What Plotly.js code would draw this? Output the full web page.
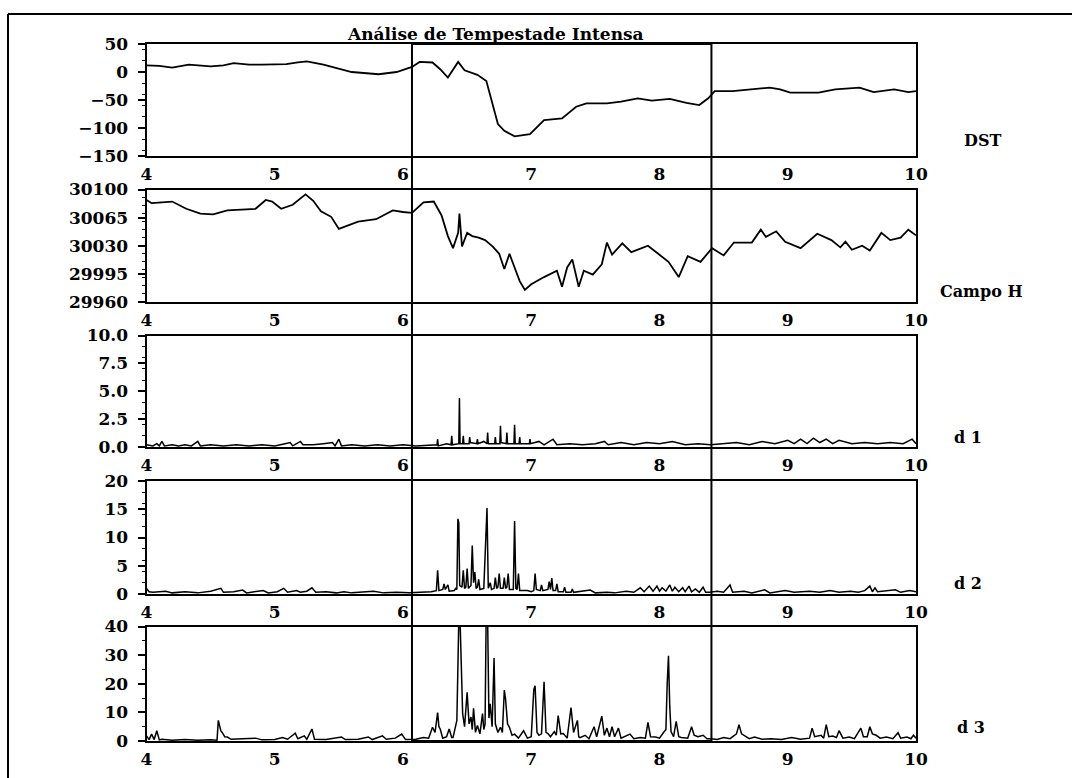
<!DOCTYPE html>
<html>
<head>
<meta charset="utf-8">
<script src="https://cdn.plot.ly/plotly-3.0.1.min.js"></script>
<style>html,body{margin:0;padding:0;background:#fff;}#chart{width:1072px;height:778px;}</style>
</head>
<body>
<div id="chart"></div>
<script>
// ---------- data (days) ----------
const titleText = "Análise de Tempestade Intensa";
const panelLabels = ["DST", "Campo H", "d 1", "d 2", "d 3"];
const xTicks = [4, 5, 6, 7, 8, 9, 10];

const dstX = [4.00,4.10,4.20,4.33,4.50,4.60,4.68,4.80,4.90,5.09,5.18,5.25,5.38,5.50,5.60,5.81,5.95,6.07,6.13,6.23,6.29,6.35,6.43,6.48,6.58,6.65,6.69,6.74,6.79,6.87,6.99,7.10,7.24,7.35,7.43,7.59,7.70,7.83,7.94,8.08,8.21,8.31,8.38,8.43,8.57,8.73,8.86,8.94,9.02,9.24,9.37,9.56,9.67,9.83,9.94,10.0];
const dstY = [12,11,8,13,10,12,16,13,13,14,17,19,13,6,0,-4,0,9,18,17,5,-10,18,3,-5,-16,-50,-93,-105,-115,-111,-86,-83,-62,-56,-56,-53,-47,-51,-48,-55,-59,-47,-34,-34,-31,-28,-31,-37,-37,-31,-28,-36,-31,-36,-34];

const hX = [4.00,4.04,4.12,4.20,4.31,4.42,4.52,4.63,4.74,4.85,4.93,4.98,5.05,5.14,5.24,5.30,5.36,5.44,5.50,5.57,5.65,5.79,5.92,6.00,6.07,6.16,6.24,6.30,6.35,6.39,6.43,6.44,6.46,6.50,6.54,6.59,6.64,6.70,6.75,6.79,6.83,6.87,6.91,6.95,7.00,7.10,7.20,7.24,7.28,7.32,7.37,7.41,7.48,7.55,7.59,7.63,7.71,7.78,7.91,7.99,8.07,8.15,8.22,8.32,8.41,8.50,8.58,8.72,8.79,8.83,8.91,8.98,9.10,9.23,9.34,9.41,9.45,9.50,9.58,9.64,9.73,9.80,9.88,9.94,10.0];
const hY = [30087,30083,30084,30085,30076,30070,30069,30074,30075,30076,30087,30085,30076,30081,30094,30086,30073,30066,30051,30055,30060,30063,30074,30072,30071,30084,30085,30068,30042,30027,30046,30070,30029,30046,30042,30040,30037,30029,30020,30001,30020,30003,29986,29975,29982,29991,29999,29979,30003,30013,29979,29999,29994,30007,30034,30019,30033,30022,30030,30020,30010,29991,30017,30010,30027,30018,30034,30034,30050,30041,30048,30035,30027,30045,30037,30028,30035,30025,30030,30024,30046,30037,30040,30050,30043];

const d1X = [4.00,4.05,4.08,4.10,4.12,4.14,4.20,4.25,4.30,4.35,4.40,4.42,4.50,4.60,4.70,4.80,4.90,5.00,5.08,5.12,5.14,5.20,5.22,5.30,5.38,5.45,5.47,5.50,5.52,5.60,5.70,5.80,5.90,6.00,6.10,6.20,6.265,6.27,6.275,6.34,6.375,6.38,6.385,6.435,6.44,6.445,6.465,6.47,6.475,6.515,6.52,6.525,6.575,6.58,6.585,6.63,6.655,6.66,6.665,6.715,6.72,6.725,6.755,6.76,6.765,6.805,6.81,6.815,6.865,6.87,6.875,6.905,6.91,6.915,6.985,6.99,6.995,7.06,7.10,7.17,7.20,7.30,7.40,7.50,7.57,7.60,7.70,7.80,7.90,8.00,8.10,8.20,8.30,8.40,8.50,8.60,8.70,8.80,8.90,9.00,9.05,9.10,9.15,9.20,9.25,9.30,9.35,9.40,9.50,9.60,9.70,9.80,9.90,9.97,10.0];
const d1Y = [0.2,0.1,0.3,0.1,0.5,0.1,0.2,0.1,0.2,0.1,0.5,0.1,0.2,0.1,0.2,0.1,0.2,0.1,0.3,0.4,0.1,0.5,0.2,0.2,0.3,0.4,0.1,0.7,0.1,0.2,0.1,0.2,0.1,0.2,0.1,0.2,0.2,0.7,0.1,0.3,0.2,1.0,0.2,0.3,4.4,0.3,0.3,1.0,0.3,0.3,0.9,0.4,0.3,0.7,0.3,0.5,0.3,1.3,0.3,0.3,0.9,0.3,0.3,1.9,0.4,0.3,1.3,0.3,0.3,2.0,0.3,0.3,0.9,0.3,0.3,0.7,0.3,0.5,0.2,0.7,0.2,0.3,0.2,0.3,0.5,0.2,0.4,0.2,0.4,0.3,0.5,0.2,0.3,0.2,0.3,0.4,0.2,0.5,0.3,0.6,0.3,0.7,0.3,0.8,0.4,0.7,0.3,0.6,0.3,0.4,0.3,0.4,0.3,0.7,0.3];

const d2X = [4.00,4.02,4.05,4.15,4.20,4.30,4.40,4.50,4.58,4.60,4.68,4.75,4.78,4.85,4.91,4.95,5.02,5.07,5.10,5.17,5.20,5.25,5.29,5.32,5.40,5.48,5.54,5.60,5.70,5.77,5.85,5.95,6.05,6.15,6.22,6.26,6.27,6.28,6.31,6.32,6.33,6.35,6.36,6.40,6.41,6.42,6.428,6.435,6.442,6.46,6.47,6.48,6.49,6.50,6.51,6.53,6.54,6.55,6.56,6.57,6.58,6.59,6.60,6.63,6.645,6.655,6.665,6.68,6.69,6.71,6.72,6.73,6.74,6.75,6.76,6.78,6.79,6.80,6.81,6.82,6.83,6.86,6.87,6.88,6.89,6.90,6.91,6.97,7.00,7.02,7.03,7.04,7.07,7.08,7.09,7.13,7.14,7.15,7.16,7.17,7.19,7.20,7.21,7.25,7.26,7.27,7.31,7.32,7.33,7.46,7.50,7.59,7.65,7.74,7.80,7.85,7.88,7.92,7.95,7.98,8.00,8.02,8.05,8.08,8.10,8.12,8.15,8.18,8.20,8.23,8.25,8.28,8.31,8.34,8.36,8.39,8.45,8.50,8.55,8.57,8.66,8.72,8.82,8.86,8.98,9.05,9.17,9.25,9.33,9.40,9.49,9.55,9.60,9.64,9.66,9.68,9.70,9.76,9.84,9.88,9.95,10.0];
const d2Y = [1.0,0.4,0.3,0.5,0.2,0.4,0.2,0.5,1.0,0.3,0.4,0.7,0.2,0.4,0.6,0.2,0.4,1.0,0.3,0.6,0.3,0.5,1.1,0.3,0.4,0.2,0.4,0.2,0.3,0.5,0.2,0.3,0.2,0.3,0.4,0.6,4.2,0.6,0.8,1.8,0.8,1.6,0.5,0.6,1.0,0.8,13.3,12.6,1.5,1.2,4.2,1.0,1.2,4.5,1.0,1.5,8.6,2.0,3.9,1.0,1.2,2.6,0.8,1.0,9.6,15.2,1.0,2.0,0.8,1.0,2.9,1.0,1.2,3.6,1.0,1.0,2.9,1.0,1.2,3.6,0.8,0.8,12.9,1.0,0.8,3.6,0.6,0.6,0.4,0.6,3.6,0.8,0.6,1.6,0.6,0.8,2.2,0.8,2.8,0.6,0.6,1.8,0.4,0.4,1.2,0.3,0.3,0.9,0.3,0.7,0.2,0.3,0.2,0.5,0.3,1.1,0.4,1.4,0.5,1.4,0.5,1.1,0.5,1.6,0.5,1.2,0.4,1.1,0.4,1.4,0.4,0.9,0.3,1.2,0.3,0.3,0.5,0.3,1.6,0.3,0.5,0.2,0.75,0.2,0.6,0.3,0.5,0.3,0.6,0.3,0.5,0.3,0.6,1.4,0.4,1.1,0.4,0.5,0.75,0.3,0.6,0.4];

const d3X = [4.00,4.02,4.04,4.06,4.08,4.10,4.12,4.20,4.30,4.40,4.50,4.55,4.56,4.58,4.59,4.61,4.63,4.66,4.75,4.85,4.90,5.00,5.06,5.10,5.16,5.18,5.23,5.25,5.29,5.31,5.40,5.52,5.55,5.65,5.73,5.76,5.84,5.87,5.94,5.99,6.02,6.10,6.16,6.20,6.23,6.25,6.27,6.28,6.29,6.31,6.34,6.36,6.38,6.39,6.42,6.435,6.445,6.455,6.465,6.48,6.50,6.515,6.53,6.54,6.55,6.565,6.58,6.60,6.62,6.63,6.64,6.648,6.66,6.67,6.68,6.695,6.71,6.72,6.74,6.76,6.775,6.79,6.80,6.815,6.83,6.85,6.87,6.90,6.94,6.97,7.00,7.02,7.03,7.045,7.06,7.08,7.10,7.115,7.13,7.15,7.18,7.195,7.21,7.23,7.25,7.28,7.31,7.33,7.36,7.37,7.38,7.42,7.45,7.49,7.51,7.55,7.57,7.59,7.61,7.63,7.65,7.68,7.70,7.77,7.80,7.85,7.89,7.91,7.93,7.97,8.00,8.03,8.05,8.06,8.07,8.08,8.09,8.11,8.13,8.15,8.17,8.22,8.25,8.27,8.30,8.34,8.37,8.40,8.45,8.50,8.55,8.60,8.62,8.64,8.66,8.70,8.74,8.80,8.87,8.95,9.03,9.10,9.17,9.19,9.21,9.26,9.28,9.30,9.32,9.35,9.38,9.40,9.43,9.48,9.52,9.57,9.59,9.62,9.64,9.66,9.69,9.72,9.77,9.82,9.86,9.88,9.93,9.96,9.98,10.0];
const d3Y = [1.8,0.5,2.4,0.5,3.6,0.4,0.6,0.3,0.5,0.3,0.4,0.3,7.2,3.5,3.0,1.5,1.4,0.6,0.8,1.0,0.4,0.5,1.2,0.6,2.7,0.8,1.8,0.6,4.2,0.6,0.5,1.4,0.5,0.6,1.4,0.5,1.8,0.6,1.0,2.4,0.5,0.6,1.2,1.0,4.8,3.0,9.9,5.0,4.2,1.0,1.5,4.2,1.2,1.2,7.2,42,42,26,9.6,5,17,6,8.4,4,11.4,3,5.4,2.5,9.6,4,6.0,42,42,8,13,5,29,6,3,4.8,3,17.8,14.5,6,4.8,2,2.4,1.0,3.6,1.0,1.5,18,19.3,3,2,2.5,20.7,3,2.6,1.5,3.3,2,8.9,2.5,2.6,1.0,11.7,3,7.2,1.5,1.2,2,0.8,5,1.5,8.7,2,4.5,1.5,5,1.5,4.5,1.0,2.4,0.8,1.2,1.0,6.5,1.5,1.4,1.0,2.9,4,20,29.8,12,3.3,1.5,6.9,1.5,1.2,1.0,5,2,1.5,2,0.8,0.8,0.5,1.2,0.8,2.5,5.7,2.5,2,0.8,1.4,0.6,0.8,0.5,1.2,0.6,1.0,4.5,1.5,2,1,5.7,1.5,1.7,1.2,3.6,1.0,1.4,0.8,4.5,1.5,1.5,5,2.5,2,1.0,1.4,0.8,2.9,1.0,1.4,0.8,2,1.0];

const yRanges = [[-150, 50], [29960, 30100], [0, 10], [0, 20], [0, 40]];
const yTickVals = [[-150, -100, -50, 0, 50], [29960, 29995, 30030, 30065, 30100], [0, 2.5, 5, 7.5, 10], [0, 5, 10, 15, 20], [0, 10, 20, 30, 40]];
const yTickText = [["−150", "−100", "−50", "0", "50"], ["29960", "29995", "30030", "30065", "30100"], ["0.0", "2.5", "5.0", "7.5", "10.0"], ["0", "5", "10", "15", "20"], ["0", "10", "20", "30", "40"]];
const stormBox = [6.07, 8.405];

// ---------- layout ----------
const W = 1072, H = 778;
const xDom = [146.5 / W, 916 / W];
const panelPx = [[44, 156], [189.5, 302], [335.5, 447], [481, 594], [626.5, 741]];
const labelPx = [[982, 141], [981, 292], [968, 437], [968, 583], [971, 727]];
const tickFont = {family: "DejaVu Serif, Liberation Serif, serif", size: 17, color: "#000", weight: "bold"};
const labelFont = {family: "DejaVu Serif, Liberation Serif, serif", size: 16, color: "#000", weight: "bold"};
const titleFont = {family: "DejaVu Serif, Liberation Serif, serif", size: 17, color: "#000", weight: "bold"};

const series = [[dstX, dstY], [hX, hY], [d1X, d1Y], [d2X, d2Y], [d3X, d3Y]];
const traces = series.map((s, i) => ({
  x: s[0], y: s[1], type: "scatter", mode: "lines",
  xaxis: i === 0 ? "x" : "x" + (i + 1),
  yaxis: i === 0 ? "y" : "y" + (i + 1),
  line: {color: "#000", width: i < 2 ? 1.8 : 1.5},
  hoverinfo: "skip", showlegend: false
}));

const layout = {
  width: W, height: H,
  margin: {l: 0, r: 0, t: 0, b: 0},
  paper_bgcolor: "#fff", plot_bgcolor: "#fff",
  font: tickFont,
  showlegend: false,
  shapes: [], annotations: []
};

for (let i = 0; i < 5; i++) {
  const sfx = i === 0 ? "" : String(i + 1);
  const dom = [1 - panelPx[i][1] / H, 1 - panelPx[i][0] / H];
  layout["xaxis" + sfx] = {
    domain: xDom, anchor: "y" + sfx, range: [4, 10],
    tickvals: xTicks, ticktext: xTicks.map(String),
    ticks: "", showgrid: false, zeroline: false,
    showline: true, mirror: true, linecolor: "#000", linewidth: 2,
    tickfont: tickFont, ticklabelstandoff: 2, fixedrange: true
  };
  layout["yaxis" + sfx] = {
    domain: dom, anchor: "x" + sfx, range: yRanges[i],
    tickvals: yTickVals[i], ticktext: yTickText[i],
    ticks: "outside", ticklen: 7, tickwidth: 2, tickcolor: "#000",
    minor: {ticks: "outside", ticklen: 3, tickwidth: 1, tickcolor: "#000", nticks: 4},
    showgrid: false, zeroline: false,
    showline: true, mirror: true, linecolor: "#000", linewidth: 2,
    tickfont: tickFont, ticklabelstandoff: 6, fixedrange: true
  };
  layout.annotations.push({
    text: panelLabels[i], xref: "paper", yref: "paper",
    x: labelPx[i][0] / W, y: 1 - labelPx[i][1] / H,
    xanchor: "center", yanchor: "middle", showarrow: false, font: labelFont
  });
}

// title
layout.annotations.push({
  text: titleText, xref: "paper", yref: "paper",
  x: 495 / W, y: 1 - 34 / H, xanchor: "center", yanchor: "middle",
  showarrow: false, font: titleFont
});

// storm interval box spanning all panels
layout.shapes.push({
  type: "rect", xref: "x", yref: "paper",
  x0: stormBox[0], x1: stormBox[1],
  y0: 1 - panelPx[4][1] / H, y1: 1 - panelPx[0][0] / H,
  line: {color: "#000", width: 2}, fillcolor: "rgba(0,0,0,0)"
});
// outer frame (top and left edges)
layout.shapes.push({type: "line", xref: "paper", yref: "paper", x0: 8 / W, x1: 1, y0: 1 - 14 / H, y1: 1 - 14 / H, line: {color: "#000", width: 2}});
layout.shapes.push({type: "line", xref: "paper", yref: "paper", x0: 8 / W, x1: 8 / W, y0: 0, y1: 1 - 14 / H, line: {color: "#000", width: 2}});

Plotly.newPlot("chart", traces, layout, {staticPlot: true, displayModeBar: false});
</script>
</body>
</html>
